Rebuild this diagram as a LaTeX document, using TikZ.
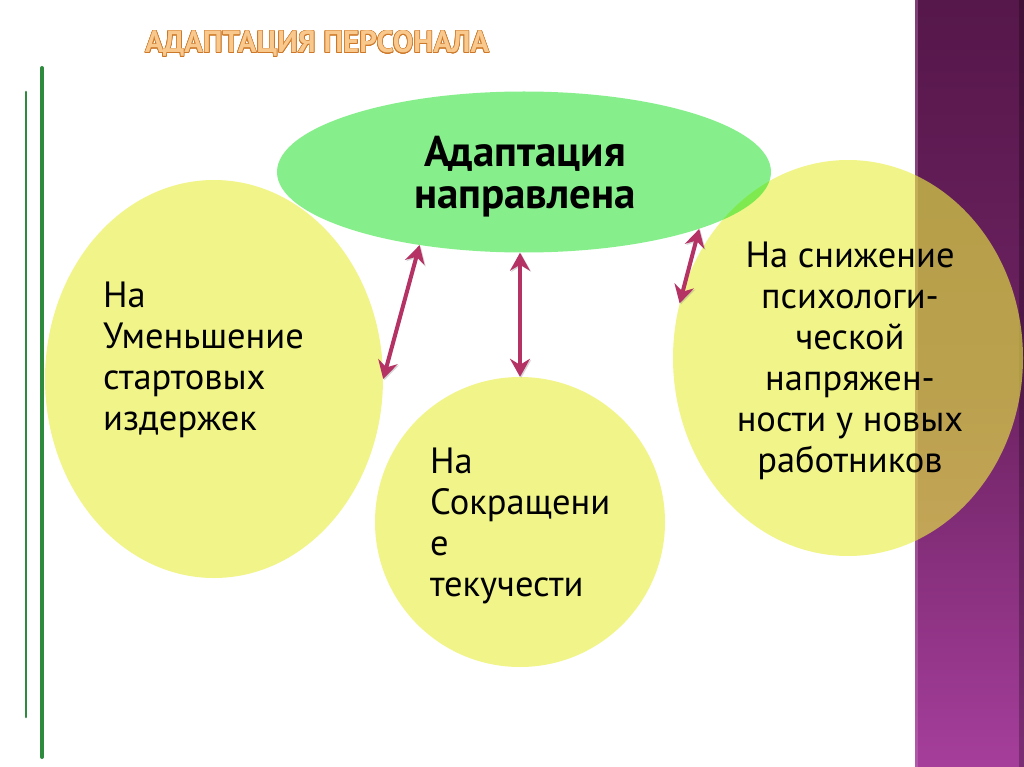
\documentclass[tikz,border=0pt]{standalone}
\usepackage{fontspec}
\setmainfont{PT Sans}
\usepackage{contour}
\contourlength{0.6pt}
\usetikzlibrary{arrows.meta,shapes.geometric}
\definecolor{ellgreen}{RGB}{14,225,25}
\definecolor{ellyellow}{RGB}{234,239,66}
\definecolor{arrowcol}{RGB}{180,50,100}
\definecolor{linegreen}{RGB}{46,139,62}
\definecolor{purpletop}{RGB}{86,23,74}
\definecolor{purplebot}{RGB}{165,62,155}
\definecolor{titlefill}{RGB}{248,200,140}
\definecolor{titleedge}{RGB}{205,120,40}
\tikzset{
  yellowell/.style={ellipse, fill=ellyellow, fill opacity=0.62, draw=none, inner sep=0pt},
  greenell/.style={ellipse, fill=ellgreen, fill opacity=0.5, draw=none, inner sep=0pt},
  conn/.style={arrowcol, line width=4pt, {Stealth[length=18pt,width=20pt,inset=6pt]}-{Stealth[length=18pt,width=20pt,inset=6pt]},
    preaction={draw=black!45, opacity=0.35, transform canvas={shift={(1.2pt,-1.2pt)}}}},
  bodytext/.style={font=\fontsize{36.5}{41}\selectfont, inner sep=0pt, text=black},
  vline/.style={linegreen, line cap=round}
}
\begin{document}
\begin{tikzpicture}[x=1pt,y=-1pt]
\useasboundingbox (0,0) rectangle (1024,767);
\fill[white] (0,0) rectangle (1024,767);
% purple bar
\shade[top color=purpletop, bottom color=purplebot, middle color=purpletop!70!purplebot] (915,0) rectangle (1024,767);
\fill[purplebot!60!white, opacity=0.35] (915,0) rectangle (918,767);
\fill[black, opacity=0.25] (1019,0) rectangle (1024,767);
% green vertical lines
\draw[vline, line width=4pt] (42,68) -- (42,757);
\draw[vline, line width=2.6pt] (26,92) -- (26,717);
% title
\node[anchor=base west, inner sep=0pt, font=\fontsize{30.8}{31}\selectfont\bfseries] (title) at (145,53)
  {\contour{titleedge}{\textcolor{titlefill}{АДАПТАЦИЯ ПЕРСОНАЛА}}};
% ellipses
\node[yellowell, minimum width=338pt, minimum height=398pt] (left) at (214,379) {};
\node[yellowell, minimum width=290pt, minimum height=290pt] (mid) at (520,522) {};
\node[yellowell, minimum width=350pt, minimum height=396pt] (right) at (848,358) {};
\node[greenell, minimum width=494pt, minimum height=161pt] (green) at (524,172) {};
% texts (base anchor = baseline of the last line)
\node[anchor=base, align=center, font=\fontsize{43}{42}\selectfont\bfseries, inner sep=0pt] (gtext) at (525,209)
  {Адаптация\\направлена};
\node[bodytext, anchor=base west, align=left] (ltext) at (103,430)
  {На\\Уменьшение\\стартовых\\издержек};
\node[bodytext, anchor=base west, align=left] (mtext) at (430,596)
  {На\\Сокращени\\е\\текучести};
\node[bodytext, anchor=base, align=center] (rtext) at (850,472)
  {На снижение\\психологи-\\ческой\\напряжен-\\ности у новых\\работников};
% connectors
\draw[conn] (green.215) -- (left.0);
\draw[conn] (mid.north |- green.south) -- (mid.north);
\draw[conn] (green.342) -- (right.162);
\end{tikzpicture}
\end{document}
